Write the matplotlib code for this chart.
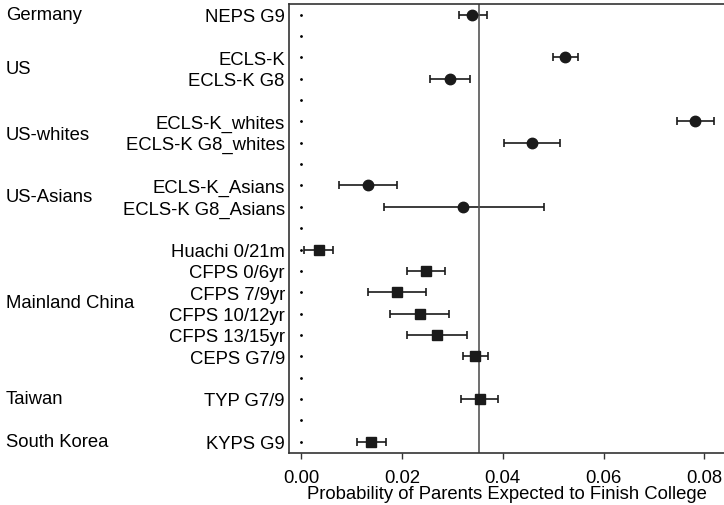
import matplotlib
matplotlib.use('Agg')
import matplotlib.pyplot as plt
import matplotlib.transforms as mtransforms

plt.rcParams['font.family'] = ['Liberation Sans', 'DejaVu Sans']

# rows top to bottom ('' = empty spacer row)
studies = ['NEPS G9', '', 'ECLS-K', 'ECLS-K G8', '', 'ECLS-K_whites',
           'ECLS-K G8_whites', '', 'ECLS-K_Asians', 'ECLS-K G8_Asians', '',
           'Huachi 0/21m', 'CFPS 0/6yr', 'CFPS 7/9yr', 'CFPS 10/12yr',
           'CFPS 13/15yr', 'CEPS G7/9', '', 'TYP G7/9', '', 'KYPS G9']
est = [0.0340, None, 0.0524, 0.0295, None, 0.0782, 0.0459, None, 0.0132,
       0.0322, None, 0.0036, 0.0248, 0.0190, 0.0235, 0.0269, 0.0346, None,
       0.0354, None, 0.0139]
lo = [0.0314, None, 0.0499, 0.0256, None, 0.0745, 0.0403, None, 0.0075,
      0.0164, None, 0.0005, 0.0210, 0.0132, 0.0177, 0.0210, 0.0321, None,
      0.0317, None, 0.0110]
hi = [0.0368, None, 0.0550, 0.0335, None, 0.0819, 0.0513, None, 0.0190,
      0.0482, None, 0.0063, 0.0285, 0.0248, 0.0294, 0.0329, 0.0371, None,
      0.0391, None, 0.0169]
# circle for US/Germany, square for East Asia
shapes = ['o', None, 'o', 'o', None, 'o', 'o', None, 'o', 'o', None,
          's', 's', 's', 's', 's', 's', None, 's', None, 's']

groups = ['Germany', 'US', 'US-whites', 'US-Asians', 'Mainland China',
          'Taiwan', 'South Korea']
group_pos = [1, 3.5, 6.6, 9.5, 14.5, 19, 21]

overall = 0.0353

fs = 13.3
fig = plt.figure(figsize=(7.24, 5.06), dpi=100)
ax = fig.add_axes([289 / 724, 1 - 454 / 506, 436 / 724, (454 - 4.7) / 506])

rows = list(range(1, len(studies) + 1))
ax.plot([0] * len(rows), rows, ls='none', marker='.', ms=2, color='black')

for y, e, l, h, m in zip(rows, est, lo, hi, shapes):
    if e is None:
        continue
    ax.errorbar(e, y, xerr=[[e - l], [h - e]], fmt=m, color='#1a1a1a',
                ms=7.5 if m == 'o' else 7, elinewidth=1.2, capsize=3.2,
                capthick=1.2)

ax.axvline(overall, color='#555555', lw=1.2)

ax.set_ylim(21.53, 0.485)
ax.set_xlim(-0.0024, 0.0841)
ax.set_yticks(rows)
ax.set_yticklabels(studies, fontsize=fs)
ax.tick_params(axis='y', length=0, pad=3)
ax.set_xticks([0, 0.02, 0.04, 0.06, 0.08])
ax.set_xticklabels(['0.00', '0.02', '0.04', '0.06', '0.08'], fontsize=fs)
ax.tick_params(axis='x', length=4.5, width=1, color='#333333', pad=7)
ax.set_xlabel('Probability of Parents Expected to Finish College',
              fontsize=fs, labelpad=-1)
for s in ax.spines.values():
    s.set_color('#333333')
    s.set_linewidth(1.2)

trans = mtransforms.blended_transform_factory(fig.transFigure, ax.transData)
for g, p in zip(groups, group_pos):
    ax.text(6 / 724, p, g, transform=trans, ha='left', va='center',
            fontsize=fs)

fig.savefig('out.png', dpi=100)
